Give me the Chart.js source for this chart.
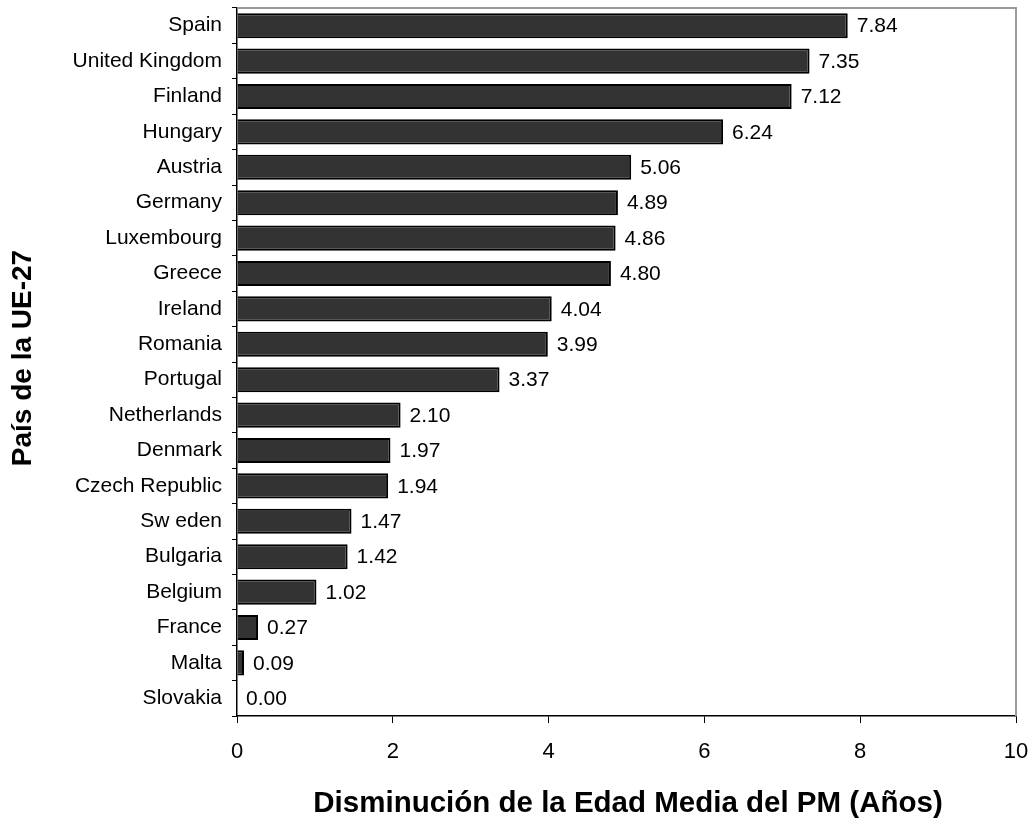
<!DOCTYPE html>
<html>
<head>
<meta charset="utf-8">
<script src="https://cdn.jsdelivr.net/npm/chart.js@4.4.0/dist/chart.umd.min.js"></script>
<style>
  html, body { margin: 0; padding: 0; background: #fff; }
  #wrap { width: 1033px; height: 824px; }
</style>
</head>
<body>
<div id="wrap"><canvas id="chart" width="1033" height="824"></canvas></div>
<script>
const paises = ['Spain', 'United Kingdom', 'Finland', 'Hungary', 'Austria', 'Germany', 'Luxembourg', 'Greece',
    'Ireland', 'Romania', 'Portugal', 'Netherlands', 'Denmark', 'Czech Republic', 'Sw eden', 'Bulgaria',
    'Belgium', 'France', 'Malta', 'Slovakia'];
const disminucion = [7.84, 7.35, 7.12, 6.24, 5.06, 4.89, 4.86, 4.80, 4.04, 3.99, 3.37, 2.10, 1.97, 1.94, 1.47, 1.42,
    1.02, 0.27, 0.09, 0.00];
const ejeX = { min: 0, max: 10, paso: 2 };
const tituloX = 'Disminución de la Edad Media del PM (Años)';
const tituloY = 'País de la UE-27';

const fuente = '"Liberation Sans", Arial, sans-serif';

// etiquetas de valor, marco gris y titulos de ejes
const extras = {
    id: 'extras',
    afterDatasetsDraw(chart) {
        const { ctx } = chart;
        const meta = chart.getDatasetMeta(0);
        ctx.save();
        ctx.fillStyle = '#000';
        ctx.font = '21px ' + fuente;
        ctx.textAlign = 'left';
        ctx.textBaseline = 'middle';
        meta.data.forEach((bar, i) => {
            ctx.fillText(disminucion[i].toFixed(2), bar.x + 9, bar.y + 1);
        });
        ctx.restore();
    },
    afterDraw(chart) {
        const { ctx, chartArea } = chart;
        ctx.save();
        ctx.strokeStyle = '#9a9a9a';
        ctx.lineWidth = 2;
        ctx.beginPath();
        ctx.moveTo(chartArea.left, chartArea.top);
        ctx.lineTo(chartArea.right, chartArea.top);
        ctx.lineTo(chartArea.right, chartArea.bottom);
        ctx.stroke();

        ctx.fillStyle = '#000';
        ctx.font = 'bold 29.5px ' + fuente;
        ctx.textAlign = 'center';
        ctx.textBaseline = 'middle';
        ctx.fillText(tituloX, 628, 804);

        ctx.font = 'bold 28px ' + fuente;
        ctx.translate(23, 358);
        ctx.rotate(-Math.PI / 2);
        ctx.fillText(tituloY, 0, 0);
        ctx.restore();
    }
};

new Chart(document.getElementById('chart'), {
    type: 'bar',
    data: {
        labels: paises,
        datasets: [{
            data: disminucion,
            backgroundColor: '#333333',
            borderColor: '#000000',
            borderWidth: 2,
            barPercentage: 0.71,
            categoryPercentage: 1.0
        }]
    },
    options: {
        indexAxis: 'y',
        responsive: false,
        animation: false,
        layout: { padding: { top: 8, right: 17, left: 0, bottom: 0 } },
        plugins: { legend: { display: false }, tooltip: { enabled: false } },
        scales: {
            x: {
                min: ejeX.min,
                max: ejeX.max,
                ticks: { stepSize: ejeX.paso, color: '#000', font: { size: 22, family: fuente }, padding: 16 },
                grid: { drawOnChartArea: false, tickLength: 7, color: '#000', lineWidth: 1 },
                border: { color: '#000', width: 1.5 },
                afterFit(scale) {
                    scale.height = 108;
                    scale.paddingLeft = 0;
                    scale.paddingRight = 0;
                }
            },
            y: {
                ticks: { color: '#000', font: { size: 21, family: fuente }, padding: 10 },
                grid: { drawOnChartArea: false, tickLength: 5, color: '#000', lineWidth: 1 },
                border: { color: '#000', width: 1.5 },
                afterFit(scale) {
                    scale.width = 237;
                    scale.paddingTop = 0;
                    scale.paddingBottom = 0;
                }
            }
        }
    },
    plugins: [extras]
});
</script>
</body>
</html>
